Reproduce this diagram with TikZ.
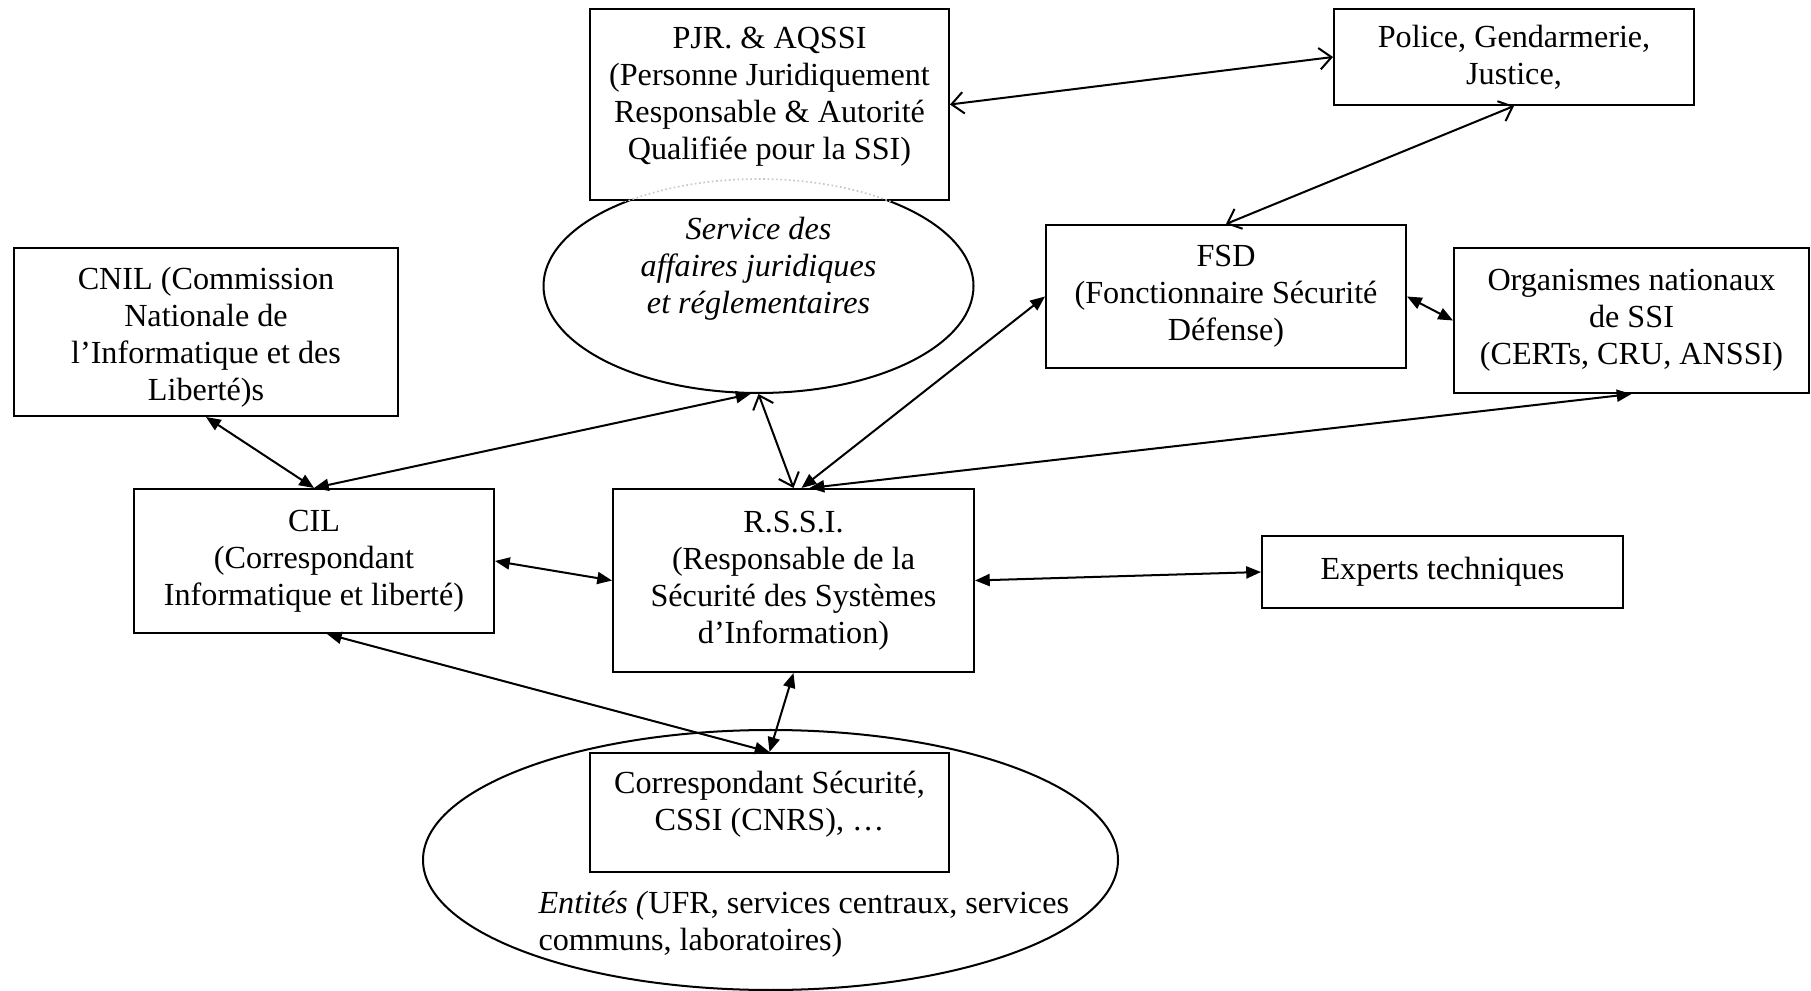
\documentclass[tikz,border=0pt]{standalone}
\usepackage{fontspec}
\setmainfont{Liberation Serif}
\usetikzlibrary{arrows.meta, shapes.geometric}
\newcommand{\pxu}{0.373pt}
\tikzset{
    box/.style={draw, line width=0.75pt, align=center, inner sep=0pt},
    oval/.style={draw, ellipse, line width=0.75pt, inner sep=0pt},
    italic/.style={font=\fontsize{12}{13.8}\selectfont\itshape},
    link/.style={line width=0.75pt,
        {Triangle[length=5.5pt,width=4.5pt]}-{Triangle[length=5.5pt,width=4.5pt]}},
    openlink/.style={line width=0.75pt,
        {Straight Barb[length=4.5pt,width=8pt]}-{Straight Barb[length=4.5pt,width=8pt]}},
}

\begin{document}
\begin{tikzpicture}[x=\pxu, y=-\pxu, font=\fontsize{12}{13.8}\selectfont]
\useasboundingbox (0,0) rectangle (1811,991);

% ellipses under the boxes
\node[oval, minimum width=430*\pxu, minimum height=214*\pxu] (serv) at (758.5,286) {};
\node[italic, align=center] (servtxt) at (758.5,268.5) {Service des\\ affaires juridiques\\ et réglementaires};
\node[oval, minimum width=695*\pxu, minimum height=260*\pxu] (ent) at (770.5,860) {};
\node[anchor=west, align=left, inner sep=0pt] (enttxt) at (538,924) {\textit{Entités (}UFR, services centraux, services\\ communs, laboratoires)};

\node[box, fill=white, text depth=8pt, minimum width=359*\pxu, minimum height=191*\pxu] (pjr) at (769.5,104.5)
    {PJR. \& AQSSI\\ (Personne Juridiquement\\ Responsable \& Autorité\\ Qualifiée pour la SSI)};
\begin{scope}
    \clip (pjr.south west) rectangle ([shift={(0,-25)}]pjr.south east);
    \draw[gray!45, densely dotted, line width=0.6pt] (serv.center) ellipse (215 and 107);
\end{scope}
\node[box, minimum width=360*\pxu, minimum height=96*\pxu] (police) at (1514,57)
    {Police, Gendarmerie,\\ Justice,};
\node[box, text height=53.7pt, minimum width=384*\pxu, minimum height=168*\pxu] (cnil) at (206,332)
    {CNIL (Commission\\ Nationale de\\ l’Informatique et des\\ Liberté)s};
\node[box, minimum width=360*\pxu, minimum height=143*\pxu] (fsd) at (1226,296.5)
    {FSD\\ (Fonctionnaire Sécurité\\ Défense)};
\node[box, minimum width=355*\pxu, minimum height=145*\pxu] (org) at (1631.5,320.5)
    {Organismes nationaux\\ de SSI\\ (CERTs, CRU, ANSSI)};
\node[box, minimum width=360*\pxu, minimum height=144*\pxu] (cil) at (314,561)
    {CIL\\ (Correspondant\\ Informatique et liberté)};
\node[box, minimum width=361*\pxu, minimum height=183*\pxu] (rssi) at (793.5,580.5)
    {R.S.S.I.\\ (Responsable de la\\ Sécurité des Systèmes\\ d’Information)};
\node[box, minimum width=361*\pxu, minimum height=72*\pxu] (experts) at (1442.5,572)
    {Experts techniques};
\node[box, text depth=8.6pt, minimum width=359*\pxu, minimum height=119*\pxu] (corr) at (769.5,812.5)
    {Correspondant Sécurité,\\ CSSI (CNRS), …};

\draw[openlink] (pjr.east) -- (police.west);
\draw[openlink] (police.south) -- (fsd.north);
\draw[link] (fsd.east) -- (org.west);
\draw[link] (cnil.south) -- (cil.north);
\draw[link] (cil.north) -- ([shift={(-8,0)}]serv.south);
\draw[openlink] (serv.south) -- (rssi.north);
\draw[link] ([shift={(8,0)}]rssi.north) -- (fsd.west);
\draw[link] ([shift={(16,0)}]rssi.north) -- (org.south);
\draw[link] (cil.east) -- (rssi.west);
\draw[link] (rssi.east) -- (experts.west);
\draw[link] ([shift={(13,0)}]cil.south) -- (corr.north);
\draw[link] (rssi.south) -- (corr.north);
\end{tikzpicture}
\end{document}
